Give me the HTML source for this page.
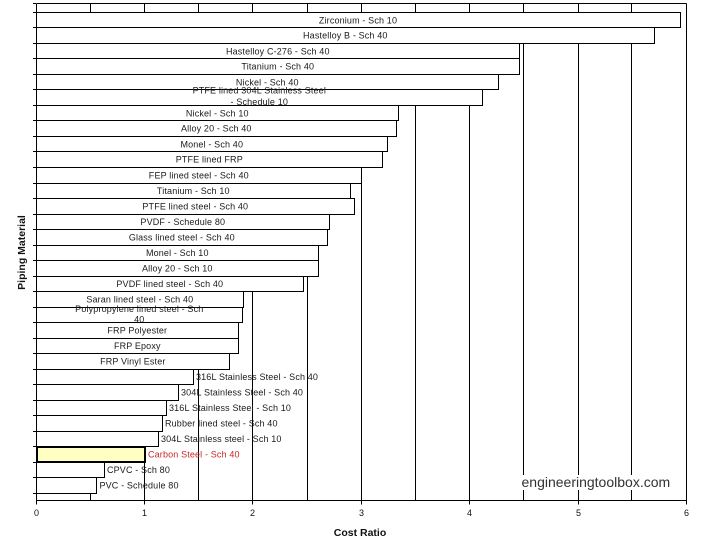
<!DOCTYPE html>
<html><head><meta charset="utf-8"><style>
html,body{margin:0;padding:0;background:#fff;}
svg{display:block;}
text{font-family:"Liberation Sans",Arial,sans-serif;}
.l{font-size:9px;fill:#1a1a1a;letter-spacing:0.15px;}
.c{text-anchor:middle;}
.t{font-size:9px;fill:#111;text-anchor:middle;}
</style></head><body>
<svg width="704" height="546" viewBox="0 0 704 546" xmlns="http://www.w3.org/2000/svg">
<rect x="0" y="0" width="704" height="546" fill="#fff"/>
<g stroke="#000" stroke-width="1" fill="none">
<line x1="36.5" y1="3.5" x2="686.5" y2="3.5"/>
<line x1="90.5" y1="3.5" x2="90.5" y2="500.5"/>
<line x1="144.5" y1="3.5" x2="144.5" y2="504.5"/>
<line x1="198.5" y1="3.5" x2="198.5" y2="500.5"/>
<line x1="252.5" y1="3.5" x2="252.5" y2="504.5"/>
<line x1="307.5" y1="3.5" x2="307.5" y2="500.5"/>
<line x1="361.5" y1="3.5" x2="361.5" y2="504.5"/>
<line x1="415.5" y1="3.5" x2="415.5" y2="500.5"/>
<line x1="469.5" y1="3.5" x2="469.5" y2="504.5"/>
<line x1="523.5" y1="3.5" x2="523.5" y2="500.5"/>
<line x1="578.5" y1="3.5" x2="578.5" y2="504.5"/>
<line x1="631.5" y1="3.5" x2="631.5" y2="500.5"/>
<line x1="686.5" y1="3.5" x2="686.5" y2="504.5"/>
<line x1="36.5" y1="500.5" x2="36.5" y2="504.5"/>
</g>
<rect x="519" y="475" width="154" height="15" fill="#fff"/>
<text x="521.5" y="487" font-size="14" fill="#333" style="font-family:'Liberation Sans',Arial,sans-serif">engineeringtoolbox.com</text>

<g stroke="#000" stroke-width="1" fill="#fff">
<rect x="36.5" y="12.5" width="644" height="15"/>
</g>
<text class="l c" x="358" y="23.5">Zirconium - Sch 10</text>
<rect x="36.5" y="27.5" width="618" height="16" fill="#fff" stroke="#000"/>
<text class="l c" x="345.3" y="38.5">Hastelloy B - Sch 40</text>
<rect x="36.5" y="43.5" width="483" height="15" fill="#fff" stroke="#000"/>
<text class="l c" x="277.8" y="54.5">Hastelloy C-276 - Sch 40</text>
<rect x="36.5" y="58.5" width="483" height="16" fill="#fff" stroke="#000"/>
<text class="l c" x="277.8" y="69.5">Titanium - Sch 40</text>
<rect x="36.5" y="74.5" width="462" height="15" fill="#fff" stroke="#000"/>
<text class="l c" x="267.3" y="85.3">Nickel - Sch 40</text>
<rect x="36.5" y="89.5" width="446" height="16" fill="#fff" stroke="#000"/>
<text class="l c" x="259.3" y="93.5">PTFE lined 304L Stainless Steel</text>
<text class="l c" x="259.3" y="105">- Schedule 10</text>
<rect x="36.5" y="105.5" width="362" height="15" fill="#fff" stroke="#000"/>
<text class="l c" x="217.3" y="116.5">Nickel - Sch 10</text>
<rect x="36.5" y="120.5" width="360" height="16" fill="#fff" stroke="#000"/>
<text class="l c" x="216.3" y="131.5">Alloy 20 - Sch 40</text>
<rect x="36.5" y="136.5" width="351" height="15" fill="#fff" stroke="#000"/>
<text class="l c" x="211.8" y="147.5">Monel - Sch 40</text>
<rect x="36.5" y="151.5" width="346" height="16" fill="#fff" stroke="#000"/>
<text class="l c" x="209.3" y="162.5">PTFE lined FRP</text>
<rect x="36.5" y="167.5" width="325" height="16" fill="#fff" stroke="#000"/>
<text class="l c" x="198.8" y="178.5">FEP lined steel - Sch 40</text>
<rect x="36.5" y="183.5" width="314" height="15" fill="#fff" stroke="#000"/>
<text class="l c" x="193.3" y="194">Titanium - Sch 10</text>
<rect x="36.5" y="198.5" width="318" height="16" fill="#fff" stroke="#000"/>
<text class="l c" x="195.3" y="209.5">PTFE lined steel - Sch 40</text>
<rect x="36.5" y="214.5" width="293" height="15" fill="#fff" stroke="#000"/>
<text class="l c" x="182.8" y="225">PVDF - Schedule 80</text>
<rect x="36.5" y="229.5" width="291" height="16" fill="#fff" stroke="#000"/>
<text class="l c" x="181.8" y="240.5">Glass lined steel - Sch 40</text>
<rect x="36.5" y="245.5" width="282" height="15" fill="#fff" stroke="#000"/>
<text class="l c" x="177.3" y="256">Monel - Sch 10</text>
<rect x="36.5" y="260.5" width="282" height="16" fill="#fff" stroke="#000"/>
<text class="l c" x="177.3" y="271.5">Alloy 20 - Sch 10</text>
<rect x="36.5" y="276.5" width="267" height="15" fill="#fff" stroke="#000"/>
<text class="l c" x="169.8" y="287">PVDF lined steel - Sch 40</text>
<rect x="36.5" y="291.5" width="207" height="16" fill="#fff" stroke="#000"/>
<text class="l c" x="139.8" y="302.5">Saran lined steel - Sch 40</text>
<rect x="36.5" y="307.5" width="206" height="15" fill="#fff" stroke="#000"/>
<text class="l c" x="139.3" y="311.8">Polypropylene lined steel - Sch</text>
<text class="l c" x="139.3" y="322.4">40</text>
<rect x="36.5" y="322.5" width="202" height="16" fill="#fff" stroke="#000"/>
<text class="l c" x="137.3" y="333.5">FRP Polyester</text>
<rect x="36.5" y="338.5" width="202" height="15" fill="#fff" stroke="#000"/>
<text class="l c" x="137.3" y="349">FRP Epoxy</text>
<rect x="36.5" y="353.5" width="193" height="16" fill="#fff" stroke="#000"/>
<text class="l c" x="132.8" y="364.5">FRP Vinyl Ester</text>
<rect x="36.5" y="369.5" width="157" height="15" fill="#fff" stroke="#000"/>
<text class="l" x="196" y="380">316L Stainless Steel - Sch 40</text>
<rect x="36.5" y="384.5" width="142" height="16" fill="#fff" stroke="#000"/>
<text class="l" x="181" y="395.5">304L Stainless Steel - Sch 40</text>
<rect x="36.5" y="400.5" width="130" height="15" fill="#fff" stroke="#000"/>
<text class="l" x="169" y="411">316L Stainless Steel - Sch 10</text>
<rect x="36.5" y="415.5" width="126" height="16" fill="#fff" stroke="#000"/>
<text class="l" x="165" y="426.5">Rubber lined steel - Sch 40</text>
<rect x="36.5" y="431.5" width="122" height="15" fill="#fff" stroke="#000"/>
<text class="l" x="161" y="442">304L Stainless steel - Sch 10</text>
<rect x="37" y="447" width="108" height="15" fill="#ffffc4" stroke="#000" stroke-width="2"/>
<text class="l" x="148" y="457.5" style="fill:#c8262a">Carbon Steel - Sch 40</text>
<rect x="36.5" y="462.5" width="68" height="15" fill="#fff" stroke="#000"/>
<text class="l" x="107" y="473">CPVC - Sch 80</text>
<rect x="36.5" y="477.5" width="60" height="16" fill="#fff" stroke="#000"/>
<text class="l" x="99.5" y="488.5">PVC - Schedule 80</text>
<g stroke="#000" stroke-width="1" fill="none">
<line x1="36.5" y1="493.5" x2="90.5" y2="493.5"/>
<line x1="90.5" y1="493.5" x2="90.5" y2="500.5"/>
<line x1="36.5" y1="3.5" x2="36.5" y2="500.5"/>
<line x1="36" y1="500.5" x2="687" y2="500.5"/>
<path d="M33 3.5H36M33 12.5H36M33 27.5H36M33 43.5H36M33 58.5H36M33 74.5H36M33 89.5H36M33 105.5H36M33 120.5H36M33 136.5H36M33 151.5H36M33 167.5H36M33 183.5H36M33 198.5H36M33 214.5H36M33 229.5H36M33 245.5H36M33 260.5H36M33 276.5H36M33 291.5H36M33 307.5H36M33 322.5H36M33 338.5H36M33 353.5H36M33 369.5H36M33 384.5H36M33 400.5H36M33 415.5H36M33 431.5H36M33 446.5H36M33 462.5H36M33 477.5H36M33 493.5H36"/>
</g>
<text class="t" x="36.5" y="516">0</text>
<text class="t" x="144.5" y="516">1</text>
<text class="t" x="252.5" y="516">2</text>
<text class="t" x="361.5" y="516">3</text>
<text class="t" x="469.5" y="516">4</text>
<text class="t" x="578.5" y="516">5</text>
<text class="t" x="686.5" y="516">6</text>
<text x="360" y="536" font-size="10.5" font-weight="bold" fill="#111" text-anchor="middle">Cost Ratio</text>
<text transform="translate(25,252.5) rotate(-90)" font-size="10.5" font-weight="bold" fill="#111" text-anchor="middle">Piping Material</text>
</svg>
</body></html>
